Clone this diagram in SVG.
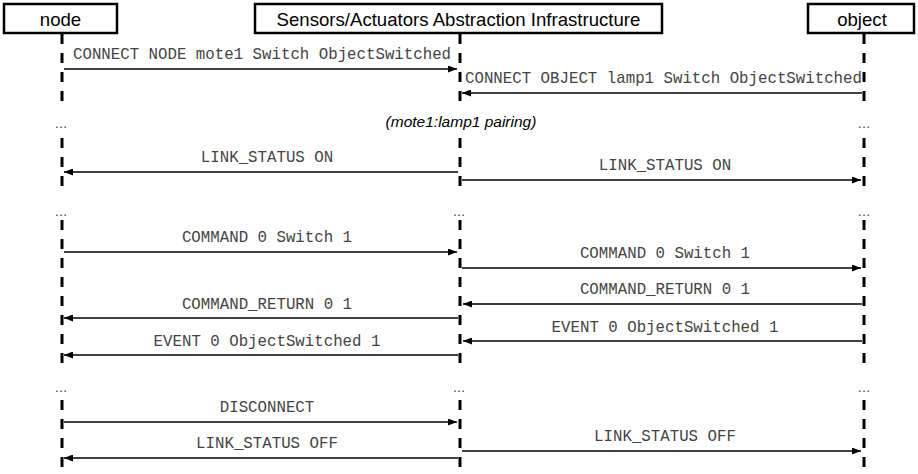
<svg xmlns="http://www.w3.org/2000/svg" width="918" height="474" viewBox="0 0 918 474">
<style>
.box{fill:#fff;stroke:#000;stroke-width:2.5}
.hdr{font-family:"Liberation Sans",Arial,sans-serif;font-size:18.6px;fill:#000;text-anchor:middle}
.life{stroke:#000;stroke-width:3;stroke-dasharray:10 9;fill:none}
.msg{stroke:#000;stroke-width:1.6;fill:none;marker-end:url(#ah)}
.lbl{font-family:"Liberation Mono","Courier New",monospace;font-size:15.75px;fill:#444;text-anchor:middle}
.dots{font-family:"Liberation Sans",Arial,sans-serif;font-size:13px;fill:#333;text-anchor:middle}
.note{font-family:"Liberation Sans",Arial,sans-serif;font-size:15.5px;font-style:italic;fill:#000;text-anchor:middle}
</style>
<defs>
<marker id="ah" markerUnits="userSpaceOnUse" markerWidth="9" markerHeight="7" refX="9" refY="3.5" orient="auto">
<path d="M0,0 L9,3.5 L0,7 z" fill="#000"/>
</marker>
</defs>
<rect width="918" height="474" fill="#fff"/>
<g id="lifelines">
<path class="life" d="M62,34 V110 M62,138 V190 M62,220 V372 M62,400 V474"/>
<path class="life" d="M460,34 V110 M460,138 V190 M460,220 V372 M460,400 V474"/>
<path class="life" d="M864,34 V110 M864,138 V190 M864,220 V372 M864,400 V474"/>
</g>
<g id="node-node">
<rect class="box" x="4" y="4" width="113" height="29"/>
<text class="hdr" x="60.5" y="26">node</text>
</g>
<g id="node-saai">
<rect class="box" x="255" y="4" width="407" height="29"/>
<text class="hdr" x="458.5" y="26">Sensors/Actuators Abstraction Infrastructure</text>
</g>
<g id="node-object">
<rect class="box" x="808" y="4" width="106" height="29"/>
<text class="hdr" x="862" y="26">object</text>
</g>
<g id="connectors">
<line class="msg" x1="64" y1="69" x2="457" y2="69"/>
<text class="lbl" x="73" y="59" style="text-anchor:start">CONNECT NODE mote1 Switch ObjectSwitched</text>
<line class="msg" x1="862" y1="93" x2="462" y2="93"/>
<text class="lbl" x="465" y="83" style="text-anchor:start">CONNECT OBJECT lamp1 Switch ObjectSwitched</text>
<line class="msg" x1="458" y1="172" x2="64" y2="172"/>
<text class="lbl" x="267" y="162">LINK_STATUS ON</text>
<line class="msg" x1="462" y1="180" x2="861" y2="180"/>
<text class="lbl" x="665" y="170">LINK_STATUS ON</text>
<line class="msg" x1="64" y1="252" x2="457" y2="252"/>
<text class="lbl" x="267" y="242">COMMAND 0 Switch 1</text>
<line class="msg" x1="462" y1="268" x2="861" y2="268"/>
<text class="lbl" x="665" y="258">COMMAND 0 Switch 1</text>
<line class="msg" x1="862" y1="304" x2="463" y2="304"/>
<text class="lbl" x="665" y="294">COMMAND_RETURN 0 1</text>
<line class="msg" x1="458" y1="318" x2="64" y2="318"/>
<text class="lbl" x="267" y="309">COMMAND_RETURN 0 1</text>
<line class="msg" x1="862" y1="341" x2="463" y2="341"/>
<text class="lbl" x="665" y="332">EVENT 0 ObjectSwitched 1</text>
<line class="msg" x1="458" y1="355" x2="64" y2="355"/>
<text class="lbl" x="267" y="346">EVENT 0 ObjectSwitched 1</text>
<line class="msg" x1="64" y1="422" x2="457" y2="422"/>
<text class="lbl" x="267" y="412">DISCONNECT</text>
<line class="msg" x1="462" y1="451" x2="861" y2="451"/>
<text class="lbl" x="665" y="441">LINK_STATUS OFF</text>
<line class="msg" x1="458" y1="458" x2="64" y2="458"/>
<text class="lbl" x="267" y="448">LINK_STATUS OFF</text>
</g>
<g id="gaps">
<text class="dots" x="61" y="128">…</text>
<text class="note" x="461" y="127">(mote1:lamp1 pairing)</text>
<text class="dots" x="864" y="128">…</text>
<text class="dots" x="61" y="216">…</text>
<text class="dots" x="459" y="216">…</text>
<text class="dots" x="864" y="216">…</text>
<text class="dots" x="61" y="392">…</text>
<text class="dots" x="459" y="392">…</text>
<text class="dots" x="864" y="392">…</text>
</g>
</svg>
